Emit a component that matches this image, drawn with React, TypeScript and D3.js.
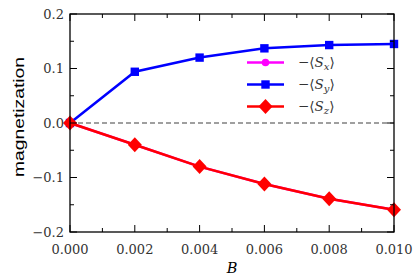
import { useEffect, useRef } from 'react';
import * as d3 from 'd3';

const fields = [0, 0.002, 0.004, 0.006, 0.008, 0.01];
const sx = [0, -0.04, -0.08, -0.112, -0.139, -0.159];
const sy = [0, 0.094, 0.12, 0.137, 0.143, 0.145];
const sz = [0, -0.04, -0.08, -0.112, -0.139, -0.159];
const xTicks = [0, 0.002, 0.004, 0.006, 0.008, 0.01];
const yTicks = [-0.2, -0.1, 0, 0.1, 0.2];

const series = [
  { name: 'x', values: sx, color: '#ff00ff', marker: 'circle' },
  { name: 'y', values: sy, color: '#0000ff', marker: 'square' },
  { name: 'z', values: sz, color: '#ff0000', marker: 'diamond' },
];

export default function App() {
  const svgRef = useRef<SVGSVGElement>(null);

  useEffect(() => {
    if (!svgRef.current) return;
    const svg = d3.select(svgRef.current);
    svg.selectAll('*').remove();

    const width = 415;
    const height = 277;
    const margin = { top: 14, right: 21, bottom: 45, left: 70 };
    const innerWidth = width - margin.left - margin.right;
    const innerHeight = height - margin.top - margin.bottom;

    const x = d3.scaleLinear().domain([0, 0.01]).range([0, innerWidth]);
    const y = d3.scaleLinear().domain([-0.2, 0.2]).range([innerHeight, 0]);

    const g = svg
      .append('g')
      .attr('transform', `translate(${margin.left},${margin.top})`);

    const serif = "'DejaVu Serif', serif";

    // zero line
    g.append('line')
      .attr('x1', 0)
      .attr('x2', innerWidth)
      .attr('y1', y(0))
      .attr('y2', y(0))
      .attr('stroke', '#808080')
      .attr('stroke-width', 1.3)
      .attr('stroke-dasharray', '5,3');

    const drawMarker = (sel: any, kind: string, color: string, cx: number, cy: number) => {
      if (kind === 'circle') {
        sel.append('circle').attr('cx', cx).attr('cy', cy).attr('r', 3.8).attr('fill', color);
      } else if (kind === 'square') {
        sel.append('rect')
          .attr('x', cx - 4.2).attr('y', cy - 4.2)
          .attr('width', 8.4).attr('height', 8.4)
          .attr('fill', color);
      } else {
        sel.append('path')
          .attr('d', `M${cx},${cy - 7.5}L${cx + 7},${cy}L${cx},${cy + 7.5}L${cx - 7},${cy}Z`)
          .attr('fill', color);
      }
    };

    const line = d3
      .line<number>()
      .x((_, i) => x(fields[i]))
      .y((d) => y(d));

    const plot = g.append('g');
    series.forEach((s) => {
      plot.append('path')
        .datum(s.values)
        .attr('fill', 'none')
        .attr('stroke', s.color)
        .attr('stroke-width', 2.5)
        .attr('d', line);
      s.values.forEach((v, i) => drawMarker(plot, s.marker, s.color, x(fields[i]), y(v)));
    });

    // frame
    g.append('rect')
      .attr('width', innerWidth)
      .attr('height', innerHeight)
      .attr('fill', 'none')
      .attr('stroke', '#000')
      .attr('stroke-width', 1.3);

    // ticks (inward, all sides)
    const xMinor = d3.range(0, 0.0105, 0.001);
    const yMinor = d3.range(-0.2, 0.201, 0.05);
    xMinor.forEach((t, i) => {
      const len = i % 2 === 0 ? 7 : 4;
      g.append('line').attr('x1', x(t)).attr('x2', x(t)).attr('y1', innerHeight).attr('y2', innerHeight - len).attr('stroke', '#000');
      g.append('line').attr('x1', x(t)).attr('x2', x(t)).attr('y1', 0).attr('y2', len).attr('stroke', '#000');
    });
    yMinor.forEach((t, i) => {
      const len = i % 2 === 0 ? 7 : 4;
      g.append('line').attr('x1', 0).attr('x2', len).attr('y1', y(t)).attr('y2', y(t)).attr('stroke', '#000');
      g.append('line').attr('x1', innerWidth).attr('x2', innerWidth - len).attr('y1', y(t)).attr('y2', y(t)).attr('stroke', '#000');
    });

    // tick labels
    xTicks.forEach((t) => {
      g.append('text')
        .attr('x', x(t))
        .attr('y', innerHeight + 22)
        .attr('text-anchor', 'middle')
        .attr('font-family', serif)
        .attr('font-size', 13)
        .attr('fill', '#333')
        .text(d3.format('.3f')(t));
    });
    yTicks.forEach((t) => {
      g.append('text')
        .attr('x', -6)
        .attr('y', y(t))
        .attr('dy', '0.36em')
        .attr('text-anchor', 'end')
        .attr('font-family', serif)
        .attr('font-size', 13)
        .attr('fill', '#333')
        .text(d3.format('.1f')(t).replace('-', '\u2212'));
    });

    // axis labels
    g.append('text')
      .attr('x', x(0.005))
      .attr('y', innerHeight + 41)
      .attr('text-anchor', 'middle')
      .attr('font-family', serif)
      .attr('font-style', 'italic')
      .attr('font-size', 14.5)
      .text('B');

    svg.append('text')
      .attr('transform', `translate(24,${margin.top + innerHeight / 2 - 6}) rotate(-90)`)
      .attr('text-anchor', 'middle')
      .attr('font-family', "'Liberation Sans', Arial, sans-serif")
      .attr('font-size', 15)
      .attr('textLength', 120)
      .attr('lengthAdjust', 'spacingAndGlyphs')
      .text('magnetization');

    // legend
    const legend = svg.append('g').attr('transform', 'translate(247,62.5)');
    series.forEach((s, i) => {
      const row = legend.append('g').attr('transform', `translate(0,${i * 22})`);
      row.append('line')
        .attr('x1', 0).attr('x2', 37)
        .attr('stroke', s.color).attr('stroke-width', 2.5);
      drawMarker(row, s.marker, s.color, 18.5, 0);
      const txt = row.append('text')
        .attr('x', 51)
        .attr('dy', '0.33em')
        .attr('font-family', serif)
        .attr('font-size', 13.5)
        .attr('fill', '#333');
      txt.append('tspan').text('\u2212\u27E8');
      txt.append('tspan').attr('font-style', 'italic').text('S');
      txt.append('tspan').attr('font-style', 'italic').attr('font-size', 10).attr('dy', 3).text(s.name);
      txt.append('tspan').attr('dy', -3).text('\u27E9');
    });
  }, []);

  return (
    <svg
      ref={svgRef}
      width={415}
      height={277}
      style={{ position: 'absolute', left: 0, top: 0, background: '#fff' }}
    />
  );
}
